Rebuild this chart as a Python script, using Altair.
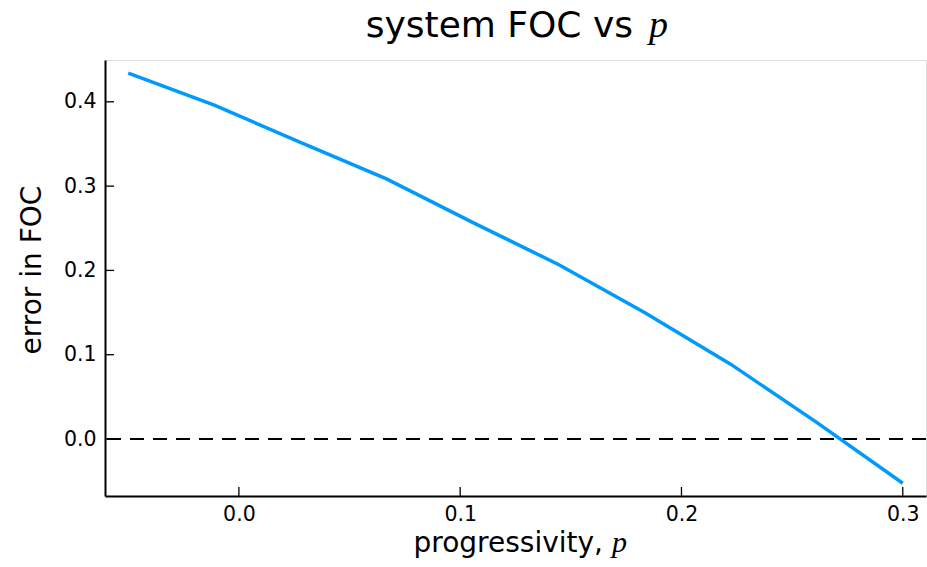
import altair as alt
import pandas as pd

# FOC error evaluated on a grid of progressivity values
p_values = [-0.05, -0.0111, 0.0278, 0.0667, 0.1056, 0.1444, 0.1833, 0.2222, 0.2611, 0.3]
foc_error = [0.434, 0.396, 0.352, 0.3085, 0.257, 0.207, 0.150, 0.0888, 0.0197, -0.0525]

x_ticks = [0.0, 0.1, 0.2, 0.3]
y_ticks = [0.0, 0.1, 0.2, 0.3, 0.4]

title_text = ["system FOC vs"]
x_title_text = ["progressivity,"]
y_title_text = ["error in FOC"]
math_symbol = ["p"]

x_domain = [-0.0605, 0.3105]
y_domain = [-0.0676, 0.4496]

W, H = 821, 436
FONT = "DejaVu Sans"
MATH_FONT = "Liberation Serif"
BLUE = "#009AFA"

df = pd.DataFrame({"p": p_values, "err": foc_error})
xt = pd.DataFrame({"t": x_ticks})
yt = pd.DataFrame({"t": y_ticks})

xscale = alt.Scale(domain=x_domain, nice=False, zero=False)
yscale = alt.Scale(domain=y_domain, nice=False, zero=False)

x_axis = alt.Axis(
    values=x_ticks, format=".1f", grid=False, ticks=False,
    domainColor="black", domainWidth=2, labelFontSize=20.5, labelFont=FONT,
    labelColor="black", labelPadding=8, title=None,
)
y_axis = alt.Axis(
    values=y_ticks, format=".1f", grid=False, ticks=False,
    domainColor="black", domainWidth=2, labelFontSize=20.5, labelFont=FONT,
    labelColor="black", labelPadding=9, title=None,
)

line = alt.Chart(df).mark_line(color=BLUE, strokeWidth=3.5, clip=True).encode(
    x=alt.X("p:Q", scale=xscale, axis=x_axis),
    y=alt.Y("err:Q", scale=yscale, axis=y_axis),
)

zero = alt.Chart(pd.DataFrame({"z": [0.0]})).mark_rule(
    color="black", strokeWidth=2, strokeDash=[14, 9]
).encode(y=alt.Y("z:Q", scale=yscale))

# inward-pointing tick marks
xticks_layer = alt.Chart(xt).mark_rule(color="black", strokeWidth=1.3).encode(
    x=alt.X("t:Q", scale=xscale), y=alt.value(H - 9), y2=alt.value(H)
)
yticks_layer = alt.Chart(yt).mark_rule(color="black", strokeWidth=1.3).encode(
    y=alt.Y("t:Q", scale=yscale), x=alt.value(0), x2=alt.value(9)
)


def label(texts, x, y, size, font, align="left", angle=0, italic=False):
    return alt.Chart(pd.DataFrame({"s": texts})).mark_text(
        align=align, baseline="alphabetic", fontSize=size, font=font,
        fontStyle="italic" if italic else "normal", angle=angle,
        color="black",
    ).encode(text="s:N", x=alt.value(x), y=alt.value(y))


title_main = label(title_text, 528, -23, 36, FONT, align="right")
title_sym = label(math_symbol, 544, -23, 38, MATH_FONT, italic=True)
x_title = label(x_title_text, 498, 492, 28, FONT, align="right")
x_sym = label(math_symbol, 507, 492, 30, MATH_FONT, italic=True)
y_title = label(y_title_text, -64, 210, 28, FONT, align="center", angle=270)

chart = (
    alt.layer(zero, line, xticks_layer, yticks_layer,
              title_main, title_sym, x_title, x_sym, y_title)
    .properties(
        width=W, height=H,
        autosize=alt.AutoSizeParams(type="none"),
        padding={"left": 105, "top": 60, "right": 1, "bottom": 71},
    )
    .configure_view(stroke=None)
    .configure(background="white")
)

chart.save("out.html", embed_options={"renderer": "svg", "actions": False})
